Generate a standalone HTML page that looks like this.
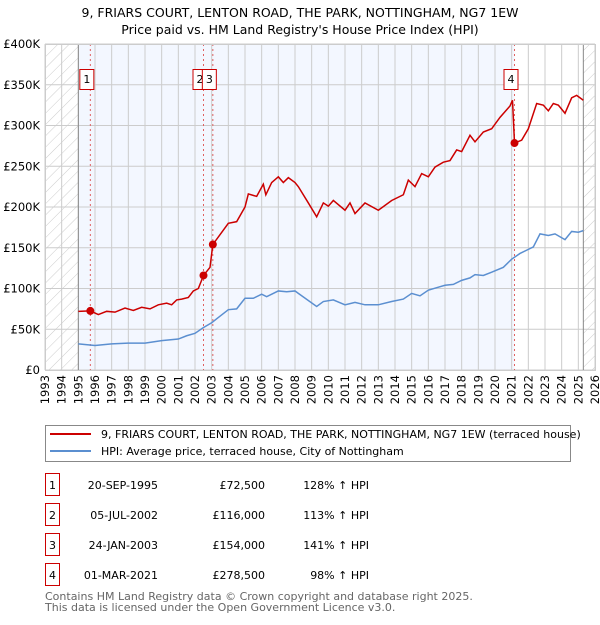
<!DOCTYPE html>
<html><head><meta charset="utf-8"><style>
body{margin:0;background:#fff;width:600px;height:620px;overflow:hidden;font-family:"Liberation Sans","DejaVu Sans",sans-serif;}
svg text{font-family:"DejaVu Sans","Liberation Sans",sans-serif;}
</style></head><body>
<svg id="chart" width="600" height="620">
<defs><pattern id="hatch" width="8" height="8" patternUnits="userSpaceOnUse" patternTransform="rotate(45)"><line x1="0" y1="0" x2="0" y2="8" stroke="#ccc" stroke-width="1"/></pattern></defs>
<text x="300" y="17" text-anchor="middle" font-size="12.5">9, FRIARS COURT, LENTON ROAD, THE PARK, NOTTINGHAM, NG7 1EW</text>
<text x="300" y="34" text-anchor="middle" font-size="12.5">Price paid vs. HM Land Registry's House Price Index (HPI)</text>
<g id="plot"></g>
<g>
<rect x="45.5" y="425.5" width="525" height="36" fill="#fff" stroke="#888"/>
<line x1="50" y1="434" x2="91" y2="434" stroke="#cc0000" stroke-width="2"/>
<text x="101" y="438" font-size="11">9, FRIARS COURT, LENTON ROAD, THE PARK, NOTTINGHAM, NG7 1EW (terraced house)</text>
<line x1="50" y1="451" x2="91" y2="451" stroke="#5b8fd0" stroke-width="2"/>
<text x="101" y="455" font-size="11">HPI: Average price, terraced house, City of Nottingham</text>
</g>
<g id="table" font-size="11"></g>
<text x="45" y="600" font-size="11" fill="#666">Contains HM Land Registry data © Crown copyright and database right 2025.</text>
<text x="45" y="611" font-size="11" fill="#666">This data is licensed under the Open Government Licence v3.0.</text>
</svg>
<script>
const yTicks=[0,50,100,150,200,250,300,350,400];
const yTickLabels=["£0","£50K","£100K","£150K","£200K","£250K","£300K","£350K","£400K"];
const years=[1993,1994,1995,1996,1997,1998,1999,2000,2001,2002,2003,2004,2005,2006,2007,2008,2009,2010,2011,2012,2013,2014,2015,2016,2017,2018,2019,2020,2021,2022,2023,2024,2025,2026];
const redT=[1995,1995.72,1996.2,1996.7,1997.2,1997.8,1998.3,1998.8,1999.3,1999.8,2000.3,2000.6,2000.9,2001.2,2001.6,2001.9,2002.2,2002.51,2002.9,2003.07,2003.5,2004,2004.5,2005,2005.2,2005.7,2006.1,2006.25,2006.6,2007,2007.3,2007.6,2008,2008.2,2008.8,2009.3,2009.7,2010,2010.3,2011,2011.3,2011.6,2012.2,2013,2013.8,2014.5,2014.8,2015.2,2015.6,2016,2016.4,2016.9,2017.3,2017.7,2018,2018.5,2018.8,2019.3,2019.8,2020.3,2020.9,2021.05,2021.17,2021.6,2022,2022.5,2022.9,2023.2,2023.5,2023.8,2024.2,2024.6,2024.9,2025.3];
const redV=[72,72.5,68,72,71,76,73,77,75,80,82,80,86,87,89,97,100,116,126,154,166,180,182,200,216,213,228,215,230,237,230,236,230,225,205,188,205,201,208,196,205,192,205,196,208,215,233,225,241,237,249,255,257,270,268,288,280,292,296,310,324,331,278.5,282,296,327,325,318,327,325,315,334,337,331];
const hpiT=[1995,1996,1997,1998,1999,2000,2001,2001.5,2002,2002.5,2003,2003.5,2004,2004.5,2005,2005.5,2006,2006.3,2007,2007.5,2008,2008.2,2009.3,2009.7,2010.3,2011,2011.6,2012.2,2013,2013.8,2014.5,2015,2015.5,2016,2016.5,2017,2017.5,2018,2018.5,2018.8,2019.3,2019.8,2020.5,2021,2021.5,2022,2022.3,2022.7,2023.2,2023.6,2024.2,2024.6,2025,2025.3];
const hpiV=[32,30,32,33,33,36,38,42,45,52,58,66,74,75,88,88,93,90,97,96,97,94,78,84,86,80,83,80,80,84,87,94,91,98,101,104,105,110,113,117,116,120,126,136,143,148,151,167,165,167,160,170,169,171];
const saleT=[1995.72,2002.51,2003.07,2021.17];
const saleV=[72.5,116,154,278.5];
const saleLabels=["1","2","3","4"];
const saleDates=["20-SEP-1995","05-JUL-2002","24-JAN-2003","01-MAR-2021"];
const salePrices=["£72,500","£116,000","£154,000","£278,500"];
const saleHpi=["128% ↑ HPI","113% ↑ HPI","141% ↑ HPI","98% ↑ HPI"];
const NS="http://www.w3.org/2000/svg";
const X0=45,X1=595,Y0=370,Y1=44;
const xs=t=>X0+(t-1993)/(2026-1993)*(X1-X0);
const ys=v=>Y0-v/400*(Y0-Y1);
function mk(tag,attrs,parent,txt){const e=document.createElementNS(NS,tag);for(const k in attrs)e.setAttribute(k,attrs[k]);if(txt!==undefined)e.textContent=txt;parent.appendChild(e);return e;}
const g=document.getElementById('plot');
let e;
e=mk('rect',{x:X0,y:Y1,width:xs(1995)-X0,height:Y0-Y1,fill:'url(#hatch)'},g);


e=mk('rect',{x:xs(2025.3),y:Y1,width:X1-xs(2025.3),height:Y0-Y1,fill:'url(#hatch)'},g);


e=mk('rect',{x:xs(1995),y:Y1,width:xs(saleT[3])-xs(1995),height:Y0-Y1,fill:'#f3f7ff'},g);


years.forEach(y=>{
 e=mk('line',{x1:xs(y),x2:xs(y),y1:Y1,y2:Y0,stroke:'#ccc','stroke-width':1},g);
 
 
 e=mk('text',{x:0,y:0,'font-size':11.5,'text-anchor':'end',transform:`translate(${xs(y)+4},${Y0+5}) rotate(-90)`},g,String(y));
 
 
});
yTicks.forEach((v,i)=>{
 e=mk('line',{x1:X0,x2:X1,y1:ys(v),y2:ys(v),stroke:'#ccc','stroke-width':1},g);
 
 
 e=mk('text',{x:40,y:ys(v)+4,'font-size':11.5,'text-anchor':'end'},g,yTickLabels[i]);
 
 
});
e=mk('line',{x1:xs(1995),x2:xs(1995),y1:Y1,y2:Y0,stroke:'#888'},g);


e=mk('line',{x1:xs(2025.3),x2:xs(2025.3),y1:Y1,y2:Y0,stroke:'#888'},g);


saleT.forEach((t,i)=>{
 e=mk('line',{x1:xs(t),x2:xs(t),y1:Y1,y2:Y0,stroke:'#e06060','stroke-dasharray':'2,3'},g);
 
 
});
e=mk('polyline',{points:hpiT.map((t,i)=>xs(t)+','+ys(hpiV[i])).join(' '),fill:'none',stroke:'#5b8fd0','stroke-width':1.5},g);


e=mk('polyline',{points:redT.map((t,i)=>xs(t)+','+ys(redV[i])).join(' '),fill:'none',stroke:'#cc0000','stroke-width':1.5},g);


saleT.forEach((t,i)=>{
 e=mk('circle',{cx:xs(t),cy:ys(saleV[i]),r:4,fill:'#cc0000'},g);
 
 
 const bx=xs(t)-11;
 e=mk('rect',{x:bx+0.5,y:69.5,width:14,height:20,fill:'#fff',stroke:'#cc0000'},g);
 
 
 e=mk('text',{x:bx+7.5,y:83,'font-size':11,'text-anchor':'middle'},g,saleLabels[i]);
 
 
});
e=mk('rect',{x:X0+0.5,y:Y1+0.5,width:X1-X0,height:Y0-Y1,fill:'none',stroke:'#ccc'},g);


const tb=document.getElementById('table');
saleLabels.forEach((l,i)=>{
 const cy=485+i*30;
 e=mk('rect',{x:45.5,y:cy-11.5,width:14,height:22,fill:'#fff',stroke:'#cc0000'},tb);
 
 
 e=mk('text',{x:52.5,y:cy+4,'text-anchor':'middle'},tb,l);
 
 
 e=mk('text',{x:158,y:cy+4,'text-anchor':'end'},tb,saleDates[i]);
 
 
 e=mk('text',{x:265,y:cy+4,'text-anchor':'end'},tb,salePrices[i]);
 
 
 e=mk('text',{x:369,y:cy+4,'text-anchor':'end'},tb,saleHpi[i]);
 
 
});
</script>
</body></html>
